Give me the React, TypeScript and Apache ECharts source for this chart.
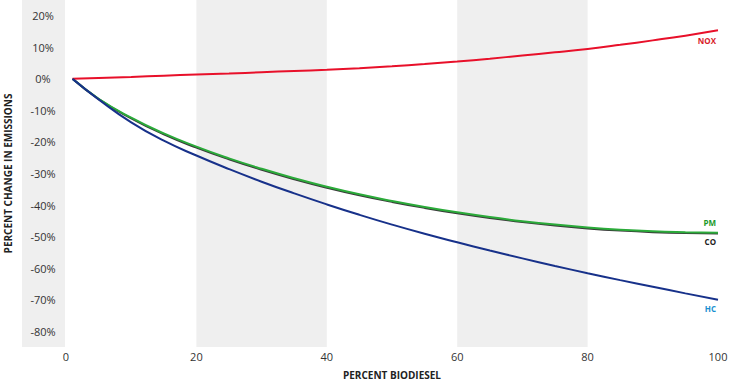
import React, { useEffect, useRef } from "react";
import * as echarts from "echarts";

const biodiesel = [1, 5, 10, 15, 20, 25, 30, 35, 40, 45, 50, 55, 60, 65, 70, 75, 80, 85, 90, 95, 100];
const noxValues = [0, 0.3, 0.6, 1.0, 1.4, 1.7, 2.1, 2.5, 2.9, 3.4, 4.0, 4.7, 5.5, 6.4, 7.4, 8.4, 9.5, 10.8, 12.2, 13.7, 15.4];
const pmValues = [0, -6.3, -12.3, -17.3, -21.5, -25.2, -28.5, -31.5, -34.2, -36.6, -38.7, -40.6, -42.3, -43.8, -45.1, -46.2, -47.1, -47.8, -48.3, -48.6, -48.8];
const coValues = [0, -6.4, -12.5, -17.6, -21.8, -25.5, -28.8, -31.8, -34.5, -36.9, -39.0, -40.9, -42.6, -44.1, -45.4, -46.5, -47.4, -48.1, -48.6, -48.9, -49.0];
const hcValues = [0, -6.5, -13.8, -19.6, -24.3, -28.6, -32.6, -36.3, -39.8, -43.1, -46.2, -49.1, -51.8, -54.4, -56.9, -59.3, -61.6, -63.8, -65.9, -68.0, -70.0];
const shadedBands = [[20, 40], [60, 80]];

const FONT = "Open Sans";

function pairs(vals: number[]) {
  return biodiesel.map((b, i) => [b, vals[i]]);
}

export default function App() {
  const ref = useRef<HTMLDivElement>(null);
  useEffect(() => {
    document.body.style.margin = "0";
    const chart = echarts.init(ref.current!, null, { renderer: "svg" });
    const lineBase = (name: string, vals: number[], color: string, labelColor: string, offset: number[], z: number) => ({
      name,
      type: "line",
      data: pairs(vals),
      smooth: true,
      showSymbol: false,
      symbol: "none",
      z,
      lineStyle: { color, width: 2 },
      itemStyle: { color },
      endLabel: {
        show: true,
        formatter: name,
        color: labelColor,
        fontFamily: FONT,
        fontWeight: "bold",
        fontSize: 8,
        align: "right",
        verticalAlign: "middle",
        offset,
      },
    });
    chart.setOption({
      animation: false,
      backgroundColor: "#ffffff",
      textStyle: { fontFamily: FONT },
      grid: { left: 66, right: 11, top: 0, bottom: 34, outerBoundsMode: "none", containLabel: false },
      graphic: [
        {
          type: "rect",
          shape: { x: 22, y: 0, width: 43, height: 347 },
          style: { fill: "#efefef" },
          z: -10,
        },
      ],
      xAxis: {
        type: "value",
        min: 0,
        max: 100,
        interval: 20,
        name: "PERCENT BIODIESEL",
        nameLocation: "middle",
        nameGap: 23,
        nameTextStyle: { fontFamily: FONT, fontWeight: "bold", fontSize: 10, lineHeight: 10, color: "#222" },
        axisLine: { show: false },
        axisTick: { show: false },
        splitLine: { show: false },
        axisLabel: { color: "#333", fontSize: 11, margin: 4, fontFamily: FONT },
      },
      yAxis: {
        type: "value",
        min: -85,
        max: 25,
        interval: 5,
        name: "PERCENT CHANGE IN EMISSIONS",
        nameLocation: "middle",
        nameGap: 53,
        nameTextStyle: { fontFamily: FONT, fontWeight: "bold", fontSize: 10, color: "#222" },
        axisLine: { show: false },
        axisTick: { show: false },
        splitLine: { show: false },
        axisLabel: {
          color: "#333",
          fontSize: 11,
          fontFamily: FONT,
          align: "center",
          margin: 23,
          formatter: (v: number) => (Math.round(v) % 10 === 0 ? `${v}%` : ""),
        },
      },
      series: [
        {
          type: "line",
          data: [],
          silent: true,
          markArea: {
            silent: true,
            itemStyle: { color: "#efefef" },
            data: shadedBands.map(([a, b]) => [{ xAxis: a }, { xAxis: b }]),
          },
          z: 0,
        },
        lineBase("NOX", noxValues, "#e8102a", "#d81a2a", [-10, 10], 4),
        lineBase("CO", coValues, "#3a3a3a", "#222", [-10, 8], 2),
        lineBase("PM", pmValues, "#2bab3a", "#1a9a2a", [-10, -10], 3),
        lineBase("HC", hcValues, "#17318a", "#1a8fd0", [-10, 9], 5),
      ],
    });
    return () => chart.dispose();
  }, []);
  return <div ref={ref} style={{ width: 729, height: 381 }} />;
}
